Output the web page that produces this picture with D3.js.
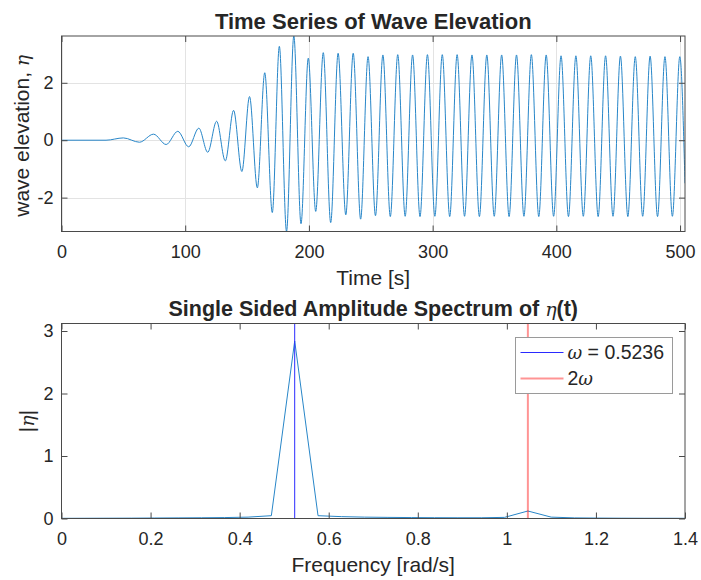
<!DOCTYPE html>
<html><head><meta charset="utf-8">
<script src="https://cdn.jsdelivr.net/npm/d3@7"></script>
<style>
body{margin:0;background:#fff}
svg{display:block}
text{font-family:"Liberation Sans",Arial,Helvetica,sans-serif;fill:#262626}
</style>
</head><body>
<svg id="c" width="701" height="580"></svg>
<script>
// ---------- DATA ----------
// Time series: times [s] and elevations of the wave crests/troughs
const waveTimes = [0, 36, 50, 63, 74.4, 84.6, 94, 102.8, 111, 118.2, 125.4, 132.4, 139.1, 145.8, 152, 158.3, 164.3, 170.4, 176.1, 181.9, 187.8, 193.6, 199.5, 205.5, 211.6, 217.6, 223.6, 229.8,
  235.8, 241.8, 247.8, 253.8, 259.8, 265.8, 271.8, 277.8, 283.8, 289.8, 295.8, 301.8, 307.8, 313.8, 319.8, 325.8, 331.8, 337.8, 343.8, 349.8, 355.8, 361.8, 367.8, 373.8, 379.8, 385.8, 391.8, 397.8,
  403.8, 409.8, 415.8, 421.8, 427.8, 433.8, 439.8, 445.8, 451.8, 457.8, 463.8, 469.8, 475.8, 481.8, 487.8, 493.8, 499.8, 504];
const waveElevation = [0, 0, 0.08, -0.07, 0.21, -0.15, 0.31, -0.23, 0.42, -0.42, 0.66, -0.72, 1.04, -1.09, 1.52, -1.66, 2.35, -2.52, 3.27, -3.18, 3.63, -2.91, 2.86, -2.48, 3.05, -2.87, 3.03, -2.6,
  3.03, -2.75, 2.91, -2.63, 2.97, -2.66, 2.98, -2.65, 2.97, -2.66, 2.98, -2.65, 2.98, -2.66, 2.98, -2.65, 2.97, -2.66, 2.97, -2.65, 2.97, -2.66, 2.97, -2.65, 2.98, -2.66, 2.97, -2.65,
  2.94, -2.66, 2.94, -2.65, 2.94, -2.66, 2.94, -2.65, 2.93, -2.66, 2.91, -2.65, 2.93, -2.66, 2.91, -2.65, 2.91, -1.5];
const timeXTicks = [0, 100, 200, 300, 400, 500];
const timeYTicks = [-2, 0, 2];
const timeRange = [0, 504];

// Spectrum
const freqs = [0, 0.0524, 0.1047, 0.1571, 0.2094, 0.2618, 0.3142, 0.3665, 0.4189, 0.4712, 0.5236, 0.5760, 0.6283, 0.6807,
  0.7330, 0.7854, 0.8378, 0.8901, 0.9425, 0.9948, 1.0472, 1.0996, 1.1519, 1.2043, 1.2566, 1.3090, 1.3614, 1.4137];
const amplitudes = [0.003, 0.004, 0.005, 0.006, 0.008, 0.010, 0.012, 0.015, 0.022, 0.045, 2.84, 0.045, 0.030, 0.022,
  0.018, 0.015, 0.013, 0.012, 0.012, 0.018, 0.12, 0.022, 0.010, 0.007, 0.005, 0.004, 0.004, 0.003];
const freqXTicks = [0, 0.2, 0.4, 0.6, 0.8, 1, 1.2, 1.4];
const freqYTicks = [0, 1, 2, 3];
const freqRange = [0, 1.4];
const ampRange = [0, 3.12];
const markerFreqs = [0.5236, 1.0472];
const markerNames = ["ω = 0.5236", "2ω"];
const markerColors = ["#2a2aff", "rgba(255,0,0,0.42)"];
const markerWidths = [1, 2];

// ---------- DRAW ----------
const svg = d3.select("#c");
const lineColor = "#2886c8";
const boxColor = "#4a4a4a";

function axesBox(g, x0, x1, y0, y1) {
  g.append("rect").attr("x", x0).attr("y", y0).attr("width", x1 - x0).attr("height", y1 - y0)
    .attr("fill", "none").attr("stroke", boxColor).attr("stroke-width", 1);
}
function styleAxis(g) {
  g.select(".domain").remove();
  g.selectAll(".tick line").attr("stroke", boxColor);
  g.selectAll(".tick text").attr("fill", "#262626").style("font-size", "18px")
    .style("font-family", '"Liberation Sans",Arial,Helvetica,sans-serif');
}

// ---- Top plot ----
const T = {x0: 61.5, x1: 685, y0: 36, y1: 231.5};
const xT = d3.scaleLinear().domain(timeRange).range([T.x0, T.x1]);
const yT = d3.scaleLinear().domain(d3.extent(waveElevation)).range([T.y1, T.y0]);

const gT = svg.append("g");
// grid
gT.append("g").selectAll("line").data(timeXTicks).join("line")
  .attr("x1", d => Math.round(xT(d)) + 0.5).attr("x2", d => Math.round(xT(d)) + 0.5)
  .attr("y1", T.y0).attr("y2", T.y1).attr("stroke", "#e3e3e3").attr("stroke-width", 1);
gT.append("g").selectAll("line").data(timeYTicks).join("line")
  .attr("y1", d => Math.round(yT(d)) + 0.5).attr("y2", d => Math.round(yT(d)) + 0.5)
  .attr("x1", T.x0).attr("x2", T.x1).attr("stroke", "#e3e3e3").attr("stroke-width", 1);

const clipT = svg.append("clipPath").attr("id", "clipT");
clipT.append("rect").attr("x", T.x0).attr("y", T.y0 - 1).attr("width", T.x1 - T.x0).attr("height", T.y1 - T.y0 + 2);

const waveData = d3.zip(waveTimes, waveElevation);
gT.append("path").datum(waveData).attr("clip-path", "url(#clipT)")
  .attr("fill", "none").attr("stroke", lineColor).attr("stroke-width", 1)
  .attr("d", d3.line().x(d => xT(d[0])).y(d => yT(d[1])).curve(d3.curveMonotoneX));

gT.append("g").attr("transform", `translate(0,${T.y1})`)
  .call(d3.axisBottom(xT).tickValues(timeXTicks).tickSizeInner(-6).tickSizeOuter(0).tickPadding(13.5).tickFormat(d => String(d)))
  .call(styleAxis);
gT.append("g").attr("transform", `translate(0,${T.y0})`)
  .call(d3.axisTop(xT).tickValues(timeXTicks).tickSizeInner(-6).tickSizeOuter(0).tickFormat(""))
  .call(styleAxis);
gT.append("g").attr("transform", `translate(${T.x0},0)`)
  .call(d3.axisLeft(yT).tickValues(timeYTicks).tickSizeInner(-6).tickSizeOuter(0).tickPadding(8).tickFormat(d => String(d)))
  .call(styleAxis);
gT.append("g").attr("transform", `translate(${T.x1},0)`)
  .call(d3.axisRight(yT).tickValues(timeYTicks).tickSizeInner(-6).tickSizeOuter(0).tickFormat(""))
  .call(styleAxis);
axesBox(gT, T.x0, T.x1, T.y0, T.y1);

gT.append("text").attr("x", (T.x0 + T.x1) / 2).attr("y", 28.5).attr("text-anchor", "middle")
  .style("font-size", "22px").style("font-weight", "bold").attr("fill", "#000").text("Time Series of Wave Elevation");
gT.append("text").attr("x", (T.x0 + T.x1) / 2).attr("y", 284.5).attr("text-anchor", "middle")
  .style("font-size", "21px").text("Time [s]");
const ylT = gT.append("text").attr("transform", `translate(29,${(T.y0 + T.y1) / 2 + 2}) rotate(-90)`)
  .attr("text-anchor", "middle").style("font-size", "21px");
ylT.append("tspan").text("wave elevation, ");
ylT.append("tspan").style("font-style", "italic").style("font-family", '"DejaVu Serif",serif').style("font-size", "19px").text("η");

// ---- Bottom plot ----
const B = {x0: 61.5, x1: 685, y0: 323.5, y1: 518.5};
const xB = d3.scaleLinear().domain(freqRange).range([B.x0, B.x1]);
const yB = d3.scaleLinear().domain(ampRange).range([B.y1, B.y0]);
const gB = svg.append("g");

const clipB = svg.append("clipPath").attr("id", "clipB");
clipB.append("rect").attr("x", B.x0).attr("y", B.y0).attr("width", B.x1 - B.x0).attr("height", B.y1 - B.y0 + 1);

gB.append("path").datum(d3.zip(freqs, amplitudes)).attr("clip-path", "url(#clipB)")
  .attr("fill", "none").attr("stroke", lineColor).attr("stroke-width", 1)
  .attr("d", d3.line().x(d => xB(d[0])).y(d => yB(d[1])));

gB.append("g").selectAll("line").data(markerFreqs).join("line")
  .attr("x1", d => xB(d)).attr("x2", d => xB(d)).attr("y1", B.y0).attr("y2", B.y1)
  .attr("stroke", (d, i) => markerColors[i]).attr("stroke-width", (d, i) => markerWidths[i]);

gB.append("g").attr("transform", `translate(0,${B.y1})`)
  .call(d3.axisBottom(xB).tickValues(freqXTicks).tickSizeInner(-6).tickSizeOuter(0).tickPadding(13.5).tickFormat(d => String(d)))
  .call(styleAxis);
gB.append("g").attr("transform", `translate(0,${B.y0})`)
  .call(d3.axisTop(xB).tickValues(freqXTicks).tickSizeInner(-6).tickSizeOuter(0).tickFormat(""))
  .call(styleAxis);
gB.append("g").attr("transform", `translate(${B.x0},0)`)
  .call(d3.axisLeft(yB).tickValues(freqYTicks).tickSizeInner(-6).tickSizeOuter(0).tickPadding(8).tickFormat(d => String(d)))
  .call(styleAxis);
gB.append("g").attr("transform", `translate(${B.x1},0)`)
  .call(d3.axisRight(yB).tickValues(freqYTicks).tickSizeInner(-6).tickSizeOuter(0).tickFormat(""))
  .call(styleAxis);
axesBox(gB, B.x0, B.x1, B.y0, B.y1);

const tB = gB.append("text").attr("x", (B.x0 + B.x1) / 2).attr("y", 315.5).attr("text-anchor", "middle")
  .style("font-size", "21.5px").style("font-weight", "bold").attr("fill", "#000");
tB.append("tspan").text("Single Sided Amplitude Spectrum of ");
tB.append("tspan").style("font-style", "italic").style("font-weight", "normal").style("font-family", '"DejaVu Serif",serif').style("font-size", "19px").text("η");
tB.append("tspan").text("(t)");
gB.append("text").attr("x", (B.x0 + B.x1) / 2).attr("y", 571.5).attr("text-anchor", "middle")
  .style("font-size", "21px").text("Frequency [rad/s]");
const ylB = gB.append("text").attr("transform", `translate(34,${(B.y0 + B.y1) / 2}) rotate(-90)`)
  .attr("text-anchor", "middle").style("font-size", "21px");
ylB.append("tspan").text("|");
ylB.append("tspan").style("font-style", "italic").style("font-family", '"DejaVu Serif",serif').style("font-size", "19px").text("η");
ylB.append("tspan").text("|");

// legend
const L = {x: 515.5, y: 337.5, w: 157, h: 56};
const gL = gB.append("g");
gL.append("rect").attr("x", L.x).attr("y", L.y).attr("width", L.w).attr("height", L.h)
  .attr("fill", "#fff").attr("stroke", "#9a9a9a").attr("stroke-width", 1);
markerNames.forEach((name, i) => {
  const yy = L.y + 15 + i * 26;
  gL.append("line").attr("x1", L.x + 5).attr("x2", L.x + 48).attr("y1", yy).attr("y2", yy)
    .attr("stroke", markerColors[i]).attr("stroke-width", markerWidths[i]);
  const t = gL.append("text").attr("x", L.x + 52).attr("y", yy).attr("dy", "0.35em").style("font-size", "19.5px");
  const parts = name.split("ω");
  t.append("tspan").text(parts[0]);
  t.append("tspan").style("font-style", "italic").style("font-family", '"DejaVu Serif",serif').style("font-size", "18px").text("ω");
  t.append("tspan").text(parts[1]);
});
</script>
</body></html>
